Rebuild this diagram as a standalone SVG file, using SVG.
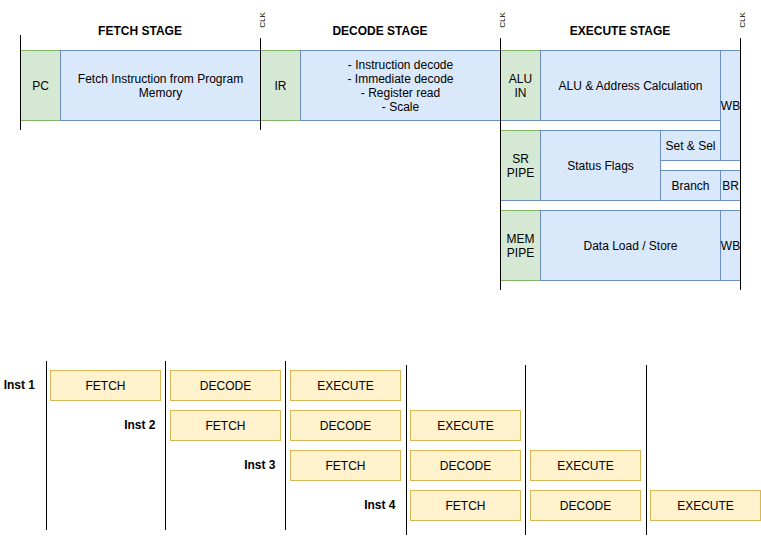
<svg xmlns="http://www.w3.org/2000/svg" width="761" height="537" viewBox="0 0 761 537">
<style>
text{font-family:"Liberation Sans",Arial,Helvetica,sans-serif;font-size:12px;fill:#000;text-anchor:middle}
.t{font-weight:bold}
.clk{font-size:8px}
.end{text-anchor:end;font-weight:bold}
.g{fill:#d5e8d4;stroke:#82b366;stroke-width:1}
.b{fill:#dae8fc;stroke:#6c8ebf;stroke-width:1}
.w{fill:#ffffff;stroke:#6c8ebf;stroke-width:1}
.y{fill:#fff2cc;stroke:#d6b656;stroke-width:1}
.ln{stroke:#000;stroke-width:1;fill:none}
</style>
<rect width="761" height="537" fill="#fff"/>
<g id="titles">
<text class="t" x="140" y="35">FETCH STAGE</text>
<text class="t" x="380" y="35">DECODE STAGE</text>
<text class="t" x="620" y="35">EXECUTE STAGE</text>
<text class="clk" transform="translate(264.5,20) rotate(-90)">CLK</text>
<text class="clk" transform="translate(504.5,20) rotate(-90)">CLK</text>
<text class="clk" transform="translate(744.5,20) rotate(-90)">CLK</text>
</g>
<g id="pc"><rect class="g" x="20.5" y="50.5" width="40" height="70"/><text x="40.5" y="90">PC</text></g>
<g id="fetch-instr"><rect class="b" x="60.5" y="50.5" width="200" height="70"/><text x="160.5" y="83">Fetch Instruction from Program</text><text x="160.5" y="97">Memory</text></g>
<g id="ir"><rect class="g" x="260.5" y="50.5" width="40" height="70"/><text x="280.5" y="90">IR</text></g>
<g id="decode"><rect class="b" x="300.5" y="50.5" width="200" height="70"/><text x="400.5" y="69">- Instruction decode</text><text x="400.5" y="83">- Immediate decode</text><text x="400.5" y="97">- Register read</text><text x="400.5" y="111">- Scale</text></g>
<g id="alu-in"><rect class="g" x="500.5" y="50.5" width="40" height="70"/><text x="520.5" y="83">ALU</text><text x="520.5" y="97">IN</text></g>
<g id="alu"><rect class="b" x="540.5" y="50.5" width="180" height="70"/><text x="630.5" y="90">ALU &amp; Address Calculation</text></g>
<g id="gap1"><rect class="w" x="500.5" y="120.5" width="220" height="10"/></g>
<g id="wb1"><rect class="b" x="720.5" y="50.5" width="20" height="110"/><text x="730.5" y="110">WB</text></g>
<g id="sr-pipe"><rect class="g" x="500.5" y="130.5" width="40" height="70"/><text x="520.5" y="163">SR</text><text x="520.5" y="177">PIPE</text></g>
<g id="status"><rect class="b" x="540.5" y="130.5" width="120" height="70"/><text x="600.5" y="170">Status Flags</text></g>
<g id="setsel"><rect class="b" x="660.5" y="130.5" width="60" height="30"/><text x="690.5" y="150">Set &amp; Sel</text></g>
<g id="gap2"><rect class="w" x="660.5" y="160.5" width="80" height="10"/></g>
<g id="branch"><rect class="b" x="660.5" y="170.5" width="60" height="30"/><text x="690.5" y="190">Branch</text></g>
<g id="br"><rect class="b" x="720.5" y="170.5" width="20" height="30"/><text x="730.5" y="190">BR</text></g>
<g id="gap3"><rect class="w" x="500.5" y="200.5" width="240" height="10"/></g>
<g id="mem-pipe"><rect class="g" x="500.5" y="210.5" width="40" height="70"/><text x="520.5" y="243">MEM</text><text x="520.5" y="257">PIPE</text></g>
<g id="dls"><rect class="b" x="540.5" y="210.5" width="180" height="70"/><text x="630.5" y="250">Data Load / Store</text></g>
<g id="wb2"><rect class="b" x="720.5" y="210.5" width="20" height="70"/><text x="730.5" y="250">WB</text></g>
<g id="connectors">
<line class="ln" x1="20.5" y1="35" x2="20.5" y2="130"/>
<line class="ln" x1="260.5" y1="38" x2="260.5" y2="130"/>
<line class="ln" x1="500.5" y1="38" x2="500.5" y2="290"/>
<line class="ln" x1="740.5" y1="38" x2="740.5" y2="290"/>
<line class="ln" x1="46.5" y1="361" x2="46.5" y2="530"/>
<line class="ln" x1="165.5" y1="361" x2="165.5" y2="530"/>
<line class="ln" x1="285.5" y1="361" x2="285.5" y2="530"/>
<line class="ln" x1="406.5" y1="365" x2="406.5" y2="535"/>
<line class="ln" x1="525.5" y1="365" x2="525.5" y2="535"/>
<line class="ln" x1="646.5" y1="365" x2="646.5" y2="535"/>
</g>
<g id="inst-labels">
<text class="end" x="35" y="389">Inst 1</text>
<text class="end" x="155.5" y="429">Inst 2</text>
<text class="end" x="275.5" y="469">Inst 3</text>
<text class="end" x="395.5" y="509">Inst 4</text>
</g>
<g id="i1-fetch"><rect class="y" x="50.5" y="370.5" width="110" height="30"/><text x="105.5" y="390">FETCH</text></g>
<g id="i1-decode"><rect class="y" x="170.5" y="370.5" width="110" height="30"/><text x="225.5" y="390">DECODE</text></g>
<g id="i1-execute"><rect class="y" x="290.5" y="370.5" width="110" height="30"/><text x="345.5" y="390">EXECUTE</text></g>
<g id="i2-fetch"><rect class="y" x="170.5" y="410.5" width="110" height="30"/><text x="225.5" y="430">FETCH</text></g>
<g id="i2-decode"><rect class="y" x="290.5" y="410.5" width="110" height="30"/><text x="345.5" y="430">DECODE</text></g>
<g id="i2-execute"><rect class="y" x="410.5" y="410.5" width="110" height="30"/><text x="465.5" y="430">EXECUTE</text></g>
<g id="i3-fetch"><rect class="y" x="290.5" y="450.5" width="110" height="30"/><text x="345.5" y="470">FETCH</text></g>
<g id="i3-decode"><rect class="y" x="410.5" y="450.5" width="110" height="30"/><text x="465.5" y="470">DECODE</text></g>
<g id="i3-execute"><rect class="y" x="530.5" y="450.5" width="110" height="30"/><text x="585.5" y="470">EXECUTE</text></g>
<g id="i4-fetch"><rect class="y" x="410.5" y="490.5" width="110" height="30"/><text x="465.5" y="510">FETCH</text></g>
<g id="i4-decode"><rect class="y" x="530.5" y="490.5" width="110" height="30"/><text x="585.5" y="510">DECODE</text></g>
<g id="i4-execute"><rect class="y" x="650.5" y="490.5" width="110" height="30"/><text x="705.5" y="510">EXECUTE</text></g>
</svg>
